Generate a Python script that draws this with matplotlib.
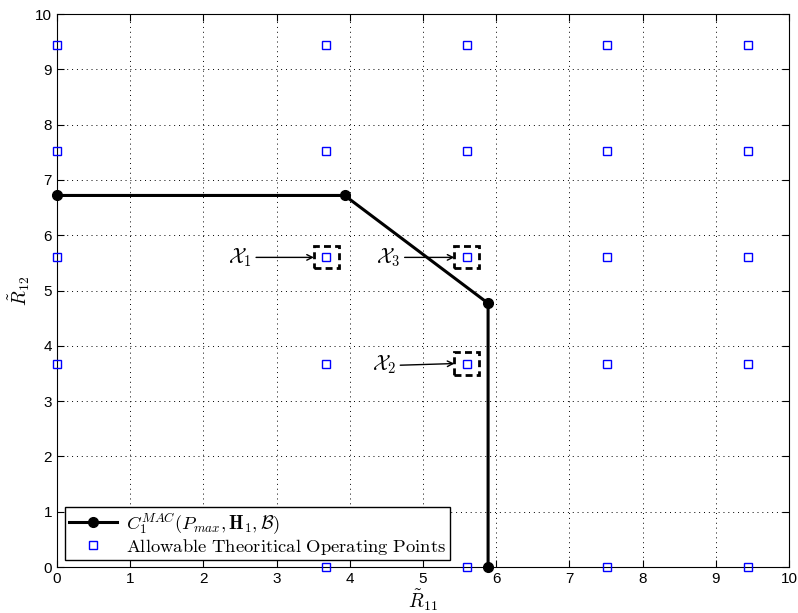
import numpy as np
import matplotlib
matplotlib.use('Agg')
from matplotlib import pyplot as plt
from matplotlib.patches import Rectangle

plt.rcParams['mathtext.fontset'] = 'cm'
plt.rcParams['font.family'] = ['Liberation Sans', 'DejaVu Sans']

# capacity region boundary
regionR11 = [0, 3.93, 5.89, 5.89]
regionR12 = [6.72, 6.72, 4.77, 0]

# allowable operating point levels (same on both axes), origin excluded
levels = [0, 3.68, 5.6, 7.52, 9.44]

# highlighted points
markedLabels = [r'$\mathcal{X}_1$', r'$\mathcal{X}_2$', r'$\mathcal{X}_3$']
markedR11 = [3.68, 5.6, 5.6]
markedR12 = [5.6, 3.68, 5.6]
labelR11 = [2.5, 4.47, 4.53]
labelR12 = [5.6, 3.65, 5.6]

fig = plt.figure(figsize=(7.98, 6.13), dpi=100)
ax = fig.add_axes([0.0714, 0.075, 0.9172, 0.902])

gridX, gridY = np.meshgrid(levels, levels)
gridX, gridY = gridX.ravel(), gridY.ravel()
keep = (gridX > 0) | (gridY > 0)
ax.plot(regionR11, regionR12, 'k-o', lw=2.2, markersize=7,
        label=r'$C_1^{MAC}(P_{max},\mathbf{H}_1,\mathcal{B})$', clip_on=False, zorder=4)
ax.plot(gridX[keep], gridY[keep], 's', color='blue', mfc='none', markersize=6, mew=1,
        label=r'$\mathrm{Allowable\ Theoritical\ Operating\ Points}$', clip_on=False, zorder=5)

for lab, x, y, lx, ly in zip(markedLabels, markedR11, markedR12, labelR11, labelR12):
    ax.add_patch(Rectangle((x - 0.17, y - 0.2), 0.34, 0.4, fill=False, ec='k',
                           lw=2, ls=(0, (2.5, 1.5)), zorder=3))
    ax.annotate('', xy=(x - 0.17, y), xytext=(lx + 0.22, ly),
                arrowprops=dict(arrowstyle='->', color='k', lw=1, shrinkA=0, shrinkB=0))
    ax.text(lx, ly, lab, fontsize=15, ha='center', va='center')

ax.set_xlim(0, 10)
ax.set_ylim(0, 10)
ax.set_xticks(range(11))
ax.set_yticks(range(11))
ax.tick_params(direction='in', length=5, labelsize=11, top=True, right=True)
ax.grid(True, ls=(0, (1, 4)), color='k', lw=0.7)
ax.set_xlabel(r'$\tilde{R}_{11}$', fontsize=14, labelpad=1)
ax.set_ylabel(r'$\tilde{R}_{12}$', fontsize=14, labelpad=2)

leg = ax.legend(loc='lower left', bbox_to_anchor=(0.011, 0.012), fontsize=13.4, fancybox=False,
                edgecolor='k', framealpha=1, borderpad=0.2, labelspacing=0.05,
                handlelength=2.6, handletextpad=0.5, borderaxespad=0)
leg.get_frame().set_linewidth(1)

plt.savefig('out.png', dpi=100)
